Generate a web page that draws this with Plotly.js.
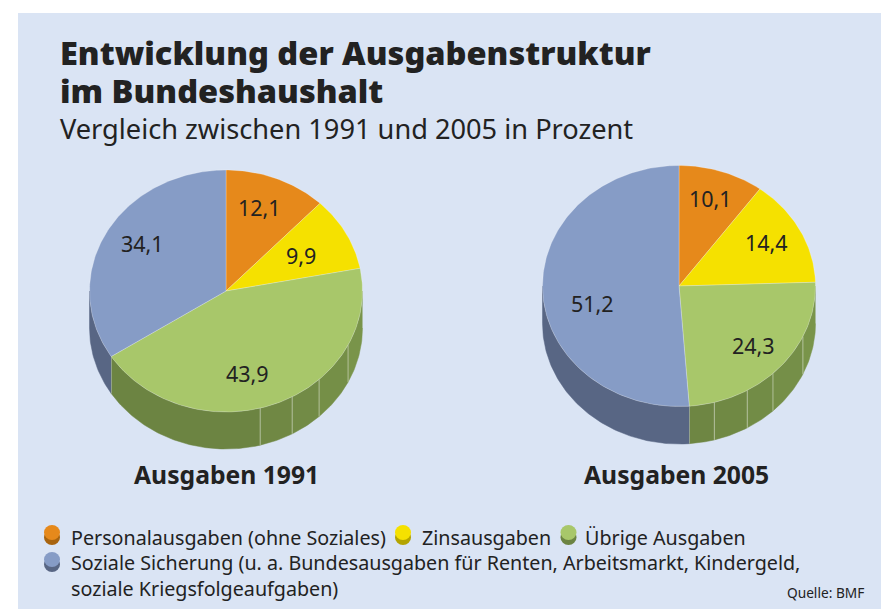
<!DOCTYPE html>
<html><head><meta charset="utf-8">
<script src="https://cdn.plot.ly/plotly-3.0.1.min.js"></script>
<style>html,body{margin:0;padding:0;background:#fff}</style></head>
<body><div id="chart" style="width:881px;height:609px"></div>
<script>
// ---- data
const categories = ["Personalausgaben (ohne Soziales)", "Zinsausgaben", "Übrige Ausgaben", "Soziale Sicherung"];
const values1991 = [12.1, 9.9, 43.9, 34.1];
const values2005 = [10.1, 14.4, 24.3, 51.2];
const pieTitles = ["Ausgaben 1991", "Ausgaben 2005"];
const legendLabels = ["Personalausgaben (ohne Soziales)", "Zinsausgaben", "Übrige Ausgaben",
  "Soziale Sicherung (u. a. Bundesausgaben für Renten, Arbeitsmarkt, Kindergeld,", "soziale Kriegsfolgeaufgaben)"];
const topColors = ["#e6891b", "#f5e100", "#a8c76a", "#869cc6"];
const sideColors = ["#a8640f", "#b3a400", "#6c8442", "#586684"];
// ---- layout constants (pixel frame of the chart)
const FONT = "Noto Sans, Open Sans, sans-serif";
const INK = "#222222";
const pies = [
  {cx: 226, cy: 291, rx: 136.5, ry: 121, depth: 37, values: values1991,
   facets: [165.5, 151, 137, 116.6],
   labels: [[259, 207], [301, 255], [247, 373], [142, 243]], title: [226, 474]},
  {cx: 679, cy: 286, rx: 136.5, ry: 120.5, depth: 37.5, values: values2005,
   facets: [165, 150, 136.5, 114.8],
   labels: [[710, 198], [766, 242], [753, 345], [592, 303]], title: [676, 474]}
];

const traces = [], annotations = [];
const pt = (p, deg, dy) => {
  const t = deg * Math.PI / 180;
  return [p.cx + p.rx * Math.sin(t), p.cy - p.ry * Math.cos(t) + (dy || 0)];
};
const arc = (p, a, b, dy) => {
  const out = [], n = Math.max(2, Math.ceil(Math.abs(b - a)));
  for (let i = 0; i <= n; i++) out.push(pt(p, a + (b - a) * i / n, dy));
  return out;
};
const poly = (pts, fill, line, name) => traces.push({
  type: "scatter", mode: "lines", x: pts.map(q => q[0]), y: pts.map(q => q[1]), fill: "toself",
  fillcolor: fill, line: line || {width: 0}, hoverinfo: "skip", showlegend: false, name: name
});
const shade = (hex, f) => {
  const n = parseInt(hex.slice(1), 16);
  const c = [n >> 16, (n >> 8) & 255, n & 255].map(v => Math.min(255, Math.round(v * f)));
  return "rgb(" + c.join(",") + ")";
};

pies.forEach(p => {
  let acc = 0;
  const spans = p.values.map(v => { const s = [acc, acc + v * 3.6]; acc += v * 3.6; return s; });
  // side wall (front half only)
  spans.forEach((s, i) => {
    const a = Math.max(s[0], 90), b = Math.min(s[1], 270);
    if (b <= a) return;
    const cuts = [a, ...p.facets.filter(f => f > a && f < b).reverse(), b];
    cuts.slice(0, -1).forEach((c0, k) => {
      const c1 = cuts[k + 1];
      const mid = (c0 + c1) / 2;
      const f = 1 + Math.max(0, (180 - mid)) / 90 * 0.14;
      poly([...arc(p, c0, c1, 0), ...arc(p, c1, c0, p.depth)], shade(sideColors[i], f), {width: 0.5, color: shade(sideColors[i], f)}, categories[i] + " Seite");
    });
    [...p.facets.filter(f => f > a && f < b), ...(b < 270 ? [b] : [])].forEach(f => {
      const q0 = pt(p, f, 0), q1 = pt(p, f, p.depth);
      traces.push({type: "scatter", mode: "lines", x: [q0[0], q1[0]], y: [q0[1], q1[1]],
        line: {color: "rgba(225,232,215,0.55)", width: 1}, hoverinfo: "skip", showlegend: false});
    });
  });
  // top face
  spans.forEach((s, i) => {
    poly([[p.cx, p.cy], ...arc(p, s[0], s[1]), [p.cx, p.cy]], topColors[i],
      {color: "rgba(255,255,255,0.3)", width: 0.8}, categories[i]);
    annotations.push({x: p.labels[i][0], y: p.labels[i][1], xref: "x", yref: "y", showarrow: false,
      text: p.values[i].toFixed(1).replace(".", ","), font: {family: FONT, size: 21.5, color: INK}});
  });
  annotations.push({x: p.title[0], y: p.title[1], xref: "x", yref: "y", showarrow: false,
    text: "<b>" + pieTitles[pies.indexOf(p)] + "</b>", font: {family: FONT, size: 24.7, color: INK}});
});

// subtitle, legend, source
const textAt = (x, y, text, size, anchor) => annotations.push({x, y, xref: "x", yref: "y", showarrow: false,
  xanchor: anchor || "left", yanchor: "middle", text, font: {family: FONT, size, color: INK}});
textAt(58, 128, "Vergleich zwischen 1991 und 2005 in Prozent", 27.2);
textAt(69, 537, legendLabels[0], 19.7);
textAt(420, 537, legendLabels[1], 19.7);
textAt(583, 537, legendLabels[2], 19.7);
textAt(69, 562, legendLabels[3], 19.7);
textAt(69, 588, legendLabels[4], 19.7);
textAt(866, 592, "Quelle: BMF", 13.7, "right");

const shapes = [{type: "rect", xref: "x", yref: "y", x0: 18, x1: 881, y0: 13, y1: 609,
  fillcolor: "#dae4f4", line: {width: 0}, layer: "below"}];
[[52, 531, 0], [403, 531, 1], [568.5, 531, 2], [52, 558, 3]].forEach(d => {
  const [x, y, i] = d;
  shapes.push({type: "circle", xref: "x", yref: "y", x0: x - 8, x1: x + 8, y0: y - 1, y1: y + 14,
    fillcolor: sideColors[i], line: {width: 0}, layer: "below"});
  shapes.push({type: "circle", xref: "x", yref: "y", x0: x - 8, x1: x + 8, y0: y - 6, y1: y + 9,
    fillcolor: topColors[i], line: {width: 0}, layer: "below"});
});

Plotly.newPlot("chart", traces, {
  width: 881, height: 609, margin: {l: 0, r: 0, t: 0, b: 0},
  paper_bgcolor: "#ffffff", plot_bgcolor: "rgba(0,0,0,0)", showlegend: false,
  title: {text: '<span style="font-size:32.55px">Entwicklung der Ausgabenstruktur<br>im Bundeshaushalt</span>',
    x: 60 / 881, xanchor: "left", xref: "paper", y: 1 - 65 / 609, yanchor: "middle", yref: "container",
    font: {family: FONT, size: 29.5, weight: 900, color: INK}},
  xaxis: {range: [0, 881], visible: false, fixedrange: true},
  yaxis: {range: [609, 0], visible: false, fixedrange: true},
  shapes, annotations
}, {displayModeBar: false, staticPlot: true});
</script></body></html>
